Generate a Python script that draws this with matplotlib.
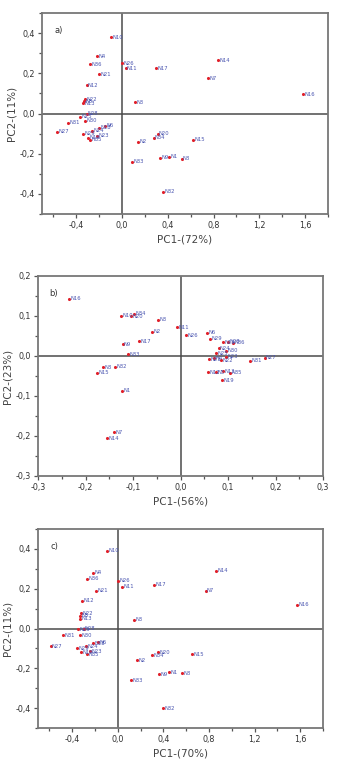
import matplotlib
matplotlib.use("Agg")
import matplotlib.pyplot as plt
from matplotlib.ticker import FuncFormatter, MultipleLocator

LABELS = [f"N{i}" for i in range(1, 37)]

# panel a) PC1 / PC2 scores
A_PC1 = [0.41, 0.14, 0.115, -0.22, -0.33, -0.15, 0.75, 0.52, 0.33, -0.097,
         0.03, -0.31, -0.34, 0.84, 0.62, 1.58, 0.30, -0.20, -0.30, 0.31,
         -0.20, -0.32, -0.22, -0.26, -0.37, 0.0, -0.57, -0.31, -0.34, -0.32,
         -0.47, 0.36, 0.09, 0.275, -0.28, -0.28]
A_PC2 = [-0.215, -0.14, 0.055, 0.285, 0.06, -0.06, 0.175, -0.225, -0.22, 0.38,
         0.225, 0.14, 0.05, 0.265, -0.13, 0.095, 0.225, -0.07, -0.12, -0.10,
         0.195, 0.072, -0.11, -0.085, -0.015, 0.25, -0.09, 0.0, -0.10, -0.035,
         -0.045, -0.39, -0.24, -0.12, -0.13, 0.245]

# panel b)
B_PC1 = [-0.124, -0.06, -0.048, 0.07, 0.075, 0.055, -0.14, -0.164, -0.122, -0.126,
         -0.007, 0.057, 0.09, -0.155, -0.175, -0.235, -0.087, 0.09, 0.087, -0.105,
         0.06, 0.085, 0.095, 0.08, 0.074, 0.012, 0.177, 0.10, 0.063, 0.095,
         0.146, -0.137, -0.11, -0.098, 0.105, 0.11]
B_PC2 = [-0.087, 0.061, 0.091, -0.005, -0.04, 0.058, -0.19, -0.028, 0.029, 0.101,
         0.072, -0.04, -0.038, -0.205, -0.042, 0.143, 0.037, 0.035, -0.06, 0.10,
         -0.008, -0.01, -0.002, 0.02, 0.007, 0.052, -0.004, 0.036, 0.043, 0.013,
         -0.012, -0.027, 0.005, 0.106, -0.042, 0.033]

# panel c)
C_PC1 = [0.45, 0.17, 0.14, -0.22, -0.33, -0.17, 0.77, 0.56, 0.36, -0.096,
         0.04, -0.31, -0.33, 0.86, 0.65, 1.57, 0.32, -0.22, -0.32, 0.35,
         -0.19, -0.32, -0.24, -0.28, -0.35, 0.0, -0.59, -0.30, -0.36, -0.33,
         -0.48, 0.40, 0.12, 0.30, -0.27, -0.27]
C_PC2 = [-0.22, -0.16, 0.045, 0.28, 0.065, -0.07, 0.19, -0.225, -0.23, 0.39,
         0.21, 0.14, 0.05, 0.29, -0.13, 0.12, 0.22, -0.075, -0.12, -0.12,
         0.19, 0.077, -0.115, -0.09, -0.005, 0.24, -0.09, 0.0, -0.10, -0.035,
         -0.035, -0.40, -0.26, -0.135, -0.13, 0.25]

PANELS = [
    ("a)", A_PC1, A_PC2, "PC1-(72%)", "PC2-(11%)"),
    ("b)", B_PC1, B_PC2, "PC1-(56%)", "PC2-(23%)"),
    ("c)", C_PC1, C_PC2, "PC1-(70%)", "PC2-(11%)"),
]

comma = FuncFormatter(lambda v, _: f"{v:.1f}".replace(".", ","))
GREY = "#555555"


def style(ax, wide):
    if wide:
        ax.set_xlim(-0.7, 1.8)
        ax.set_ylim(-0.5, 0.5)
        ax.xaxis.set_major_locator(MultipleLocator(0.4))
        ax.xaxis.set_minor_locator(MultipleLocator(0.2))
        ax.yaxis.set_major_locator(MultipleLocator(0.2))
        ax.yaxis.set_minor_locator(MultipleLocator(0.1))
    else:
        ax.set_xlim(-0.3, 0.3)
        ax.set_ylim(-0.3, 0.2)
        ax.xaxis.set_major_locator(MultipleLocator(0.1))
        ax.xaxis.set_minor_locator(MultipleLocator(0.05))
        ax.yaxis.set_major_locator(MultipleLocator(0.1))
        ax.yaxis.set_minor_locator(MultipleLocator(0.05))
    ax.xaxis.set_major_formatter(comma)
    ax.yaxis.set_major_formatter(comma)
    ax.tick_params(which="major", length=3, width=0.9, color=GREY,
                   labelsize=5.8, labelcolor="#333333", pad=2)
    ax.tick_params(which="minor", length=2, width=0.9, color=GREY)
    for s in ax.spines.values():
        s.set_color("#777777")
        s.set_linewidth(1.3)
    ax.axhline(0, color="#4a4a4a", lw=1.1, zorder=1)
    ax.axvline(0, color="#4a4a4a", lw=1.1, zorder=1)


def main() -> None:
    fig = plt.figure(figsize=(3.37, 7.73), dpi=100)
    rects = [
        [42 / 337, 1 - 214 / 773, 286 / 337, 201 / 773],
        [38 / 337, 1 - 476 / 773, 285 / 337, 200 / 773],
        [38 / 337, 1 - 728 / 773, 285 / 337, 199 / 773],
    ]
    for rect, (tag, xs, ys, xlab, ylab) in zip(rects, PANELS):
        ax = fig.add_axes(rect)
        wide = tag != "b)"
        style(ax, wide)
        ax.scatter(xs, ys, s=5, color="#e0202a", zorder=3, linewidths=0)
        dx = 0.012 if wide else 0.003
        for x, y, lab in zip(xs, ys, LABELS):
            ax.text(x + dx, y, lab, fontsize=3.8, color="#4a55b0",
                    va="center", ha="left", zorder=4)
        ax.text(0.045 if wide else 0.04, 0.9, tag, transform=ax.transAxes,
                fontsize=6, color="#333333")
        ax.set_xlabel(xlab, fontsize=7.5, color="#444444", labelpad=3)
        ax.set_ylabel(ylab, fontsize=7.5, color="#444444", labelpad=2)
    fig.savefig("out.png", dpi=100)


main() if __name__ == "__main__" else None
